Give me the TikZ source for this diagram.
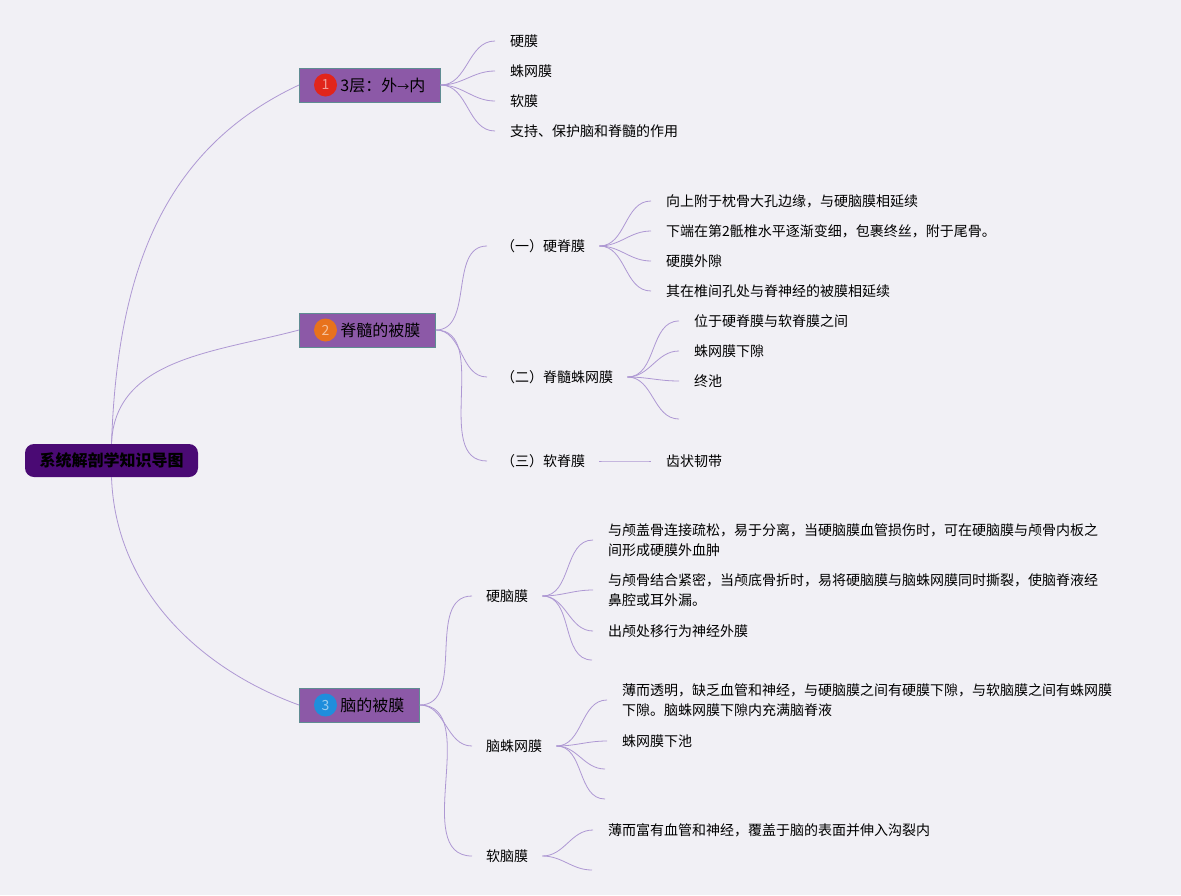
\documentclass[tikz,border=0pt]{standalone}
\usepackage{fontspec}
\setmainfont{Noto Sans CJK SC}
\usepackage{xcolor}
\usepackage{tikz}
\usetikzlibrary{positioning}

\definecolor{canvas}{HTML}{F1F0F5}
\definecolor{linkcol}{HTML}{AE98D3}
\definecolor{rootcol}{HTML}{4A0A74}
\definecolor{topiccol}{HTML}{8C59A7}
\definecolor{topicline}{HTML}{5F8C92}
\definecolor{dotred}{HTML}{E1251B}
\definecolor{dotorange}{HTML}{E8721C}
\definecolor{dotblue}{HTML}{1F8EDC}

\begin{document}
\begin{tikzpicture}[x=1pt, y=1pt,
    root/.style={fill=rootcol, rounded corners=9pt, minimum width=173pt, minimum height=33pt,
        font=\fontsize{16}{18}\selectfont\bfseries, text=black},
    topic/.style={anchor=west, fill=topiccol, draw=topicline, line width=0.8pt, minimum height=34pt,
        inner xsep=15pt, font=\fontsize{16}{18}\selectfont},
    numdot/.style={circle, minimum size=23pt, inner sep=0pt, font=\fontsize{14}{14}\selectfont},
    sub/.style={anchor=west, inner xsep=14pt, font=\fontsize{14}{20}\selectfont},
    leaf/.style={anchor=west, inner xsep=15pt, align=left, font=\fontsize{14}{20}\selectfont},
    link/.style={draw=linkcol, line width=0.8pt},
    branch/.style={out=0, in=180}]

    \fill[canvas] (0,0) rectangle (1181,-895);
    \useasboundingbox (0,0) rectangle (1181,-895);

    % main topics
    \node[root] (root) at (111.5,-460.5) {系统解剖学知识导图};

    \node[topic] (m1) at (299,-85) {\hspace*{26pt}3层：外{\fontsize{12}{14}\selectfont →}内};
    \node[topic] (m2) at (299,-330) {\hspace*{26pt}脊髓的被膜};
    \node[topic] (m3) at (299,-705) {\hspace*{26pt}脑的被膜};

    \node[numdot, fill=dotred, text=dotred!45!white] (d1) at ([xshift=26.5pt]m1.west) {1};
    \node[numdot, fill=dotorange, text=dotorange!45!white] (d2) at ([xshift=26.5pt]m2.west) {2};
    \node[numdot, fill=dotblue, text=dotblue!45!white] (d3) at ([xshift=26.5pt]m3.west) {3};

    % 3 layers
    \node[leaf] (l11) at (495,-41) {硬膜};
    \node[leaf] (l12) at (495,-71) {蛛网膜};
    \node[leaf] (l13) at (495,-101) {软膜};
    \node[leaf] (l14) at (495,-131) {支持、保护脑和脊髓的作用};

    % spinal meninges
    \node[sub] (s21) at (487,-246) {（一）硬脊膜};
    \node[sub] (s22) at (487,-377) {（二）脊髓蛛网膜};
    \node[sub] (s23) at (487,-461) {（三）软脊膜};

    \node[leaf] (l211) at (651,-201) {向上附于枕骨大孔边缘，与硬脑膜相延续};
    \node[leaf] (l212) at (651,-231) {下端在第2骶椎水平逐渐变细，包裹终丝，附于尾骨。};
    \node[leaf] (l213) at (651,-261) {硬膜外隙};
    \node[leaf] (l214) at (651,-291) {其在椎间孔处与脊神经的被膜相延续};

    \node[leaf] (l221) at (679,-321) {位于硬脊膜与软脊膜之间};
    \node[leaf] (l222) at (679,-351) {蛛网膜下隙};
    \node[leaf] (l223) at (679,-381) {终池};
    \coordinate (c224) at (679,-419);

    \node[leaf] (l231) at (651,-461) {齿状韧带};

    % cerebral meninges
    \node[sub] (s31) at (472,-596) {硬脑膜};
    \node[sub] (s32) at (472,-746) {脑蛛网膜};
    \node[sub] (s33) at (472,-856) {软脑膜};

    \node[leaf] (l311) at (593,-540) {与颅盖骨连接疏松，易于分离，当硬脑膜血管损伤时，可在硬脑膜与颅骨内板之\\间形成硬膜外血肿};
    \node[leaf] (l312) at (593,-590) {与颅骨结合紧密，当颅底骨折时，易将硬脑膜与脑蛛网膜同时撕裂，使脑脊液经\\鼻腔或耳外漏。};
    \node[leaf] (l313) at (593,-631) {出颅处移行为神经外膜};
    \coordinate (c314) at (592,-660);

    \node[leaf] (l321) at (607,-700) {薄而透明，缺乏血管和神经，与硬脑膜之间有硬膜下隙，与软脑膜之间有蛛网膜\\下隙。脑蛛网膜下隙内充满脑脊液};
    \node[leaf] (l322) at (607,-741) {蛛网膜下池};
    \coordinate (c323) at (605,-769);
    \coordinate (c324) at (605,-799);

    \node[leaf] (l331) at (593,-830) {薄而富有血管和神经，覆盖于脑的表面并伸入沟裂内};
    \coordinate (c332) at (592,-870);

    % connectors
    \path[link]
    (root.north) edge[out=88, in=205, looseness=1.0] (m1.west)
    (root.north) edge[out=88, in=195, looseness=1.0] (m2.west)
    (root.south) edge[out=-88, in=160, looseness=0.95] (m3.west)

    (m1) edge[branch] (l11)
         edge[branch] (l12)
         edge[branch] (l13)
         edge[branch] (l14)

    (m2) edge[branch] (s21)
         edge[branch] (s22)
         edge[branch] (s23)
    (s21) edge[branch] (l211)
          edge[branch] (l212)
          edge[branch] (l213)
          edge[branch] (l214)
    (s22) edge[branch] (l221)
          edge[branch] (l222)
          edge[branch] (l223)
          edge[branch] (c224)
    (s23) edge[branch] (l231)

    (m3) edge[branch] (s31)
         edge[branch] (s32)
         edge[branch] (s33)
    (s31) edge[branch] (l311)
          edge[branch] (l312)
          edge[branch] (l313)
          edge[branch] (c314)
    (s32) edge[branch] (l321)
          edge[branch] (l322)
          edge[branch] (c323)
          edge[branch] (c324)
    (s33) edge[branch] (l331)
          edge[branch] (c332);

\end{tikzpicture}
\end{document}
